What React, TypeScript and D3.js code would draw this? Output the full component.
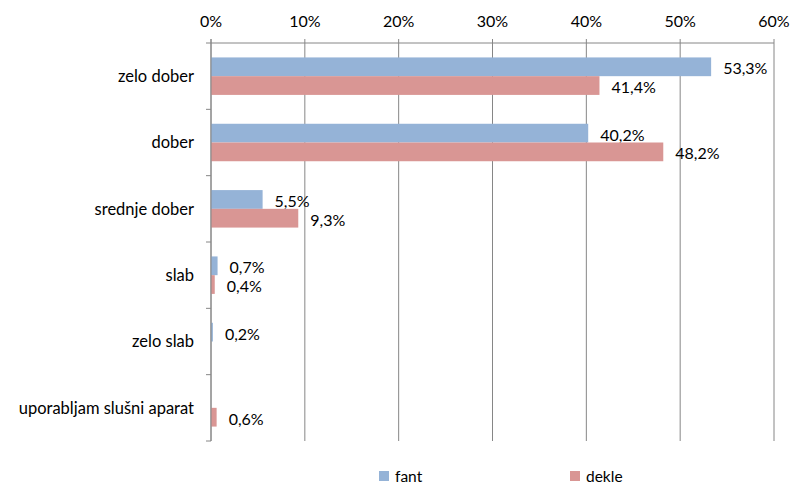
import React from "react";
import * as d3 from "d3";

const categories = ["zelo dober", "dober", "srednje dober", "slab", "zelo slab", "uporabljam slušni aparat"];
const seriesNames = ["fant", "dekle"];
const fant = [53.3, 40.2, 5.5, 0.7, 0.2, null];
const dekle = [41.4, 48.2, 9.3, 0.4, null, 0.6];
const xTicks = [0, 10, 20, 30, 40, 50, 60];
const colors = ["#95B3D7", "#D99694"];

const W = 795, H = 486;
const left = 211, right = 774, top = 43, bottom = 441;
const font = "Lato, 'Open Sans', sans-serif";

export default function App() {
  const x = d3.scaleLinear().domain([0, 60]).range([left, right]);
  const y0 = d3.scaleBand<string>().domain(categories).range([top, bottom]).paddingInner(0.435).paddingOuter(0.2175);
  const y1 = d3.scaleBand<string>().domain(seriesNames).range([0, y0.bandwidth()]);
  const series = [fant, dekle];
  const fmt = (v: number) => v.toFixed(1).replace(".", ",") + "%";
  const grid = "#868686";
  return (
    <div style={{ position: "absolute", left: 0, top: 0 }}>
      <svg width={W} height={H} style={{ display: "block", fontFamily: font }}>
        <rect width={W} height={H} fill="#fff" />
        {xTicks.map((t) => (
          <g key={t}>
            <line x1={x(t)} x2={x(t)} y1={top - 4} y2={bottom} stroke={grid} strokeWidth={1} />
            <text x={x(t)} y={27} textAnchor="middle" fontSize={16} fill="#000">{t}%</text>
          </g>
        ))}
        <line x1={left} x2={right} y1={top} y2={top} stroke={grid} />
        {d3.range(categories.length + 1).map((i) => {
          const yy = top + (i * (bottom - top)) / categories.length;
          return <line key={i} x1={left - 5} x2={left} y1={yy} y2={yy} stroke={grid} />;
        })}
        {categories.map((c) => (
          <text key={c} x={left - 17} y={(y0(c) as number) + y0.bandwidth() / 2} dy="0.35em" textAnchor="end" fontSize={16.5} fill="#000">{c}</text>
        ))}
        {series.map((vals, si) =>
          vals.map((v, ci) => {
            if (v == null) return null;
            const yy = (y0(categories[ci]) as number) + (y1(seriesNames[si]) as number);
            return (
              <g key={si + "-" + ci}>
                <rect x={x(0)} y={yy} width={x(v) - x(0)} height={y1.bandwidth()} fill={colors[si]} />
                <text x={x(v) + 12} y={yy + y1.bandwidth() / 2 + 2} dy="0.35em" fontSize={16} fill="#000">{fmt(v)}</text>
              </g>
            );
          })
        )}
        <line x1={left} x2={left} y1={top - 4} y2={bottom} stroke={grid} />
        {seriesNames.map((s, i) => (
          <g key={s} transform={`translate(${i === 0 ? 379 : 570},471)`}>
            <rect width={10} height={10} fill={colors[i]} />
            <text x={16} y={11} fontSize={15.5} fill="#000">{s}</text>
          </g>
        ))}
      </svg>
    </div>
  );
}
